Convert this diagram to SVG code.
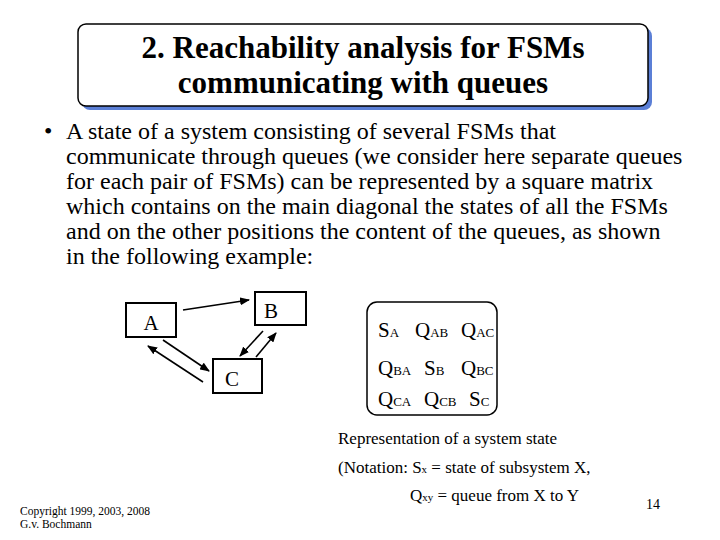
<svg xmlns="http://www.w3.org/2000/svg" width="720" height="540" viewBox="0 0 720 540">
<style>
text{font-family:"Liberation Serif","Times New Roman",serif;fill:#000}
.box{fill:#fff;stroke:#000;stroke-width:2}
.c{stroke:#000;stroke-width:1.6;fill:none;marker-end:url(#ah)}
.m{font-size:21px}
.s{font-size:13px}
</style>
<defs><marker id="ah" markerWidth="10" markerHeight="8" refX="9" refY="4" orient="auto" markerUnits="userSpaceOnUse"><path d="M0,0L10,4L0,8z" fill="#000"/></marker></defs>
<rect width="720" height="540" fill="#fff"/>
<g id="title">
<rect x="82" y="28" width="570" height="82" rx="8" fill="#5b7fd6"/>
<rect x="78" y="24" width="570" height="82" rx="8" fill="#fff" stroke="#000" stroke-width="1.5"/>
<text x="363" y="58" text-anchor="middle" font-size="31" font-weight="bold">2. Reachability analysis for FSMs</text>
<text x="363" y="93" text-anchor="middle" font-size="31" font-weight="bold">communicating with queues</text>
</g>
<g id="body">
<text x="44" y="139" font-size="24">•</text>
<text x="66" y="139" font-size="24">A state of a system consisting of several FSMs that</text>
<text x="66" y="164" font-size="24">communicate through queues (we consider here separate queues</text>
<text x="66" y="189" font-size="24">for each pair of FSMs) can be represented by a square matrix</text>
<text x="66" y="214" font-size="24">which contains on the main diagonal the states of all the FSMs</text>
<text x="66" y="239" font-size="24">and on the other positions the content of the queues, as shown</text>
<text x="66" y="264" font-size="24">in the following example:</text>
</g>
<g id="A"><rect class="box" x="126" y="303" width="50" height="34"/><text x="151" y="330" text-anchor="middle" font-size="21">A</text></g>
<g id="B"><rect class="box" x="255" y="292" width="51" height="33"/><text x="271" y="318" text-anchor="middle" font-size="21">B</text></g>
<g id="C"><rect class="box" x="213" y="359" width="49" height="34"/><text x="232" y="386" text-anchor="middle" font-size="21">C</text></g>
<g id="connectors">
<line class="c" x1="183" y1="310" x2="249" y2="300"/>
<line class="c" x1="263" y1="331" x2="240" y2="356"/>
<line class="c" x1="256" y1="357" x2="276" y2="333"/>
<line class="c" x1="163" y1="340" x2="209" y2="371"/>
<line class="c" x1="203" y1="382" x2="148" y2="346"/>
</g>
<g id="matrix">
<rect x="367" y="302" width="130" height="113" rx="10" fill="#fff" stroke="#000" stroke-width="1.5"/>
<text x="378" y="337" class="m">S<tspan class="s">A</tspan></text>
<text x="415" y="337" class="m">Q<tspan class="s">AB</tspan></text>
<text x="461" y="337" class="m">Q<tspan class="s">AC</tspan></text>
<text x="378" y="375" class="m">Q<tspan class="s">BA</tspan></text>
<text x="424" y="375" class="m">S<tspan class="s">B</tspan></text>
<text x="461" y="375" class="m">Q<tspan class="s">BC</tspan></text>
<text x="378" y="406" class="m">Q<tspan class="s">CA</tspan></text>
<text x="424" y="406" class="m">Q<tspan class="s">CB</tspan></text>
<text x="469" y="406" class="m">S<tspan class="s">C</tspan></text>
</g>
<g id="notes">
<text x="338" y="444" font-size="17">Representation of a system state</text>
<text x="338" y="473" font-size="17">(Notation: S<tspan font-size="11">x</tspan> = state of subsystem X,</text>
<text x="410" y="501" font-size="17">Q<tspan font-size="11">xy</tspan> = queue from  X to Y</text>
<text x="646" y="509" font-size="14">14</text>
<text x="20" y="515" font-size="11.5">Copyright 1999, 2003, 2008</text>
<text x="20" y="528" font-size="11.5">G.v. Bochmann</text>
</g>
</svg>
